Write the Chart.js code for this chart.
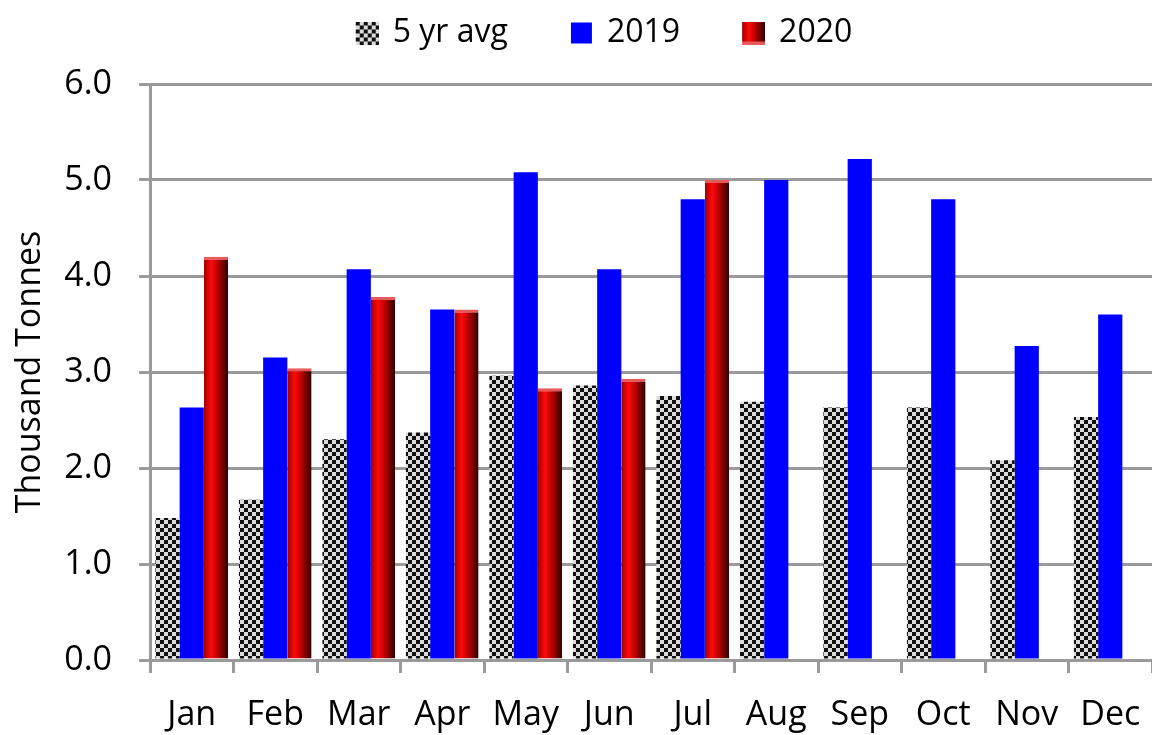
<!DOCTYPE html>
<html>
<head>
<meta charset="utf-8">
<script src="https://cdn.jsdelivr.net/npm/chart.js@4/dist/chart.umd.min.js"></script>
<style>
  html, body { margin: 0; padding: 0; background: #fff; }
  #wrap { width: 1152px; height: 735px; }
</style>
</head>
<body>
<div id="wrap"><canvas id="tonnesChart"></canvas></div>
<script>
const months = ['Jan', 'Feb', 'Mar', 'Apr', 'May', 'Jun', 'Jul', 'Aug', 'Sep', 'Oct', 'Nov', 'Dec'];
const avg5yr = [1.48, 1.67, 2.30, 2.37, 2.96, 2.86, 2.75, 2.69, 2.63, 2.63, 2.08, 2.53];
const y2019 = [2.63, 3.15, 4.07, 3.65, 5.08, 4.07, 4.80, 5.00, 5.22, 4.80, 3.27, 3.60];
const y2020 = [4.20, 3.04, 3.78, 3.65, 2.83, 2.93, 5.00, null, null, null, null, null];
const yTicks = [0, 1, 2, 3, 4, 5, 6];

const FONT = 'Open Sans';
const CAT_PCT = 0.87;
const LEGEND_GAP = 58;
const MARK = 23;

// checkered fill for the 5 yr avg bars
function makeChecker() {
    const c = document.createElement('canvas');
    c.width = 8;
    c.height = 8;
    const g = c.getContext('2d');
    g.fillStyle = '#dcdcdc';
    g.fillRect(0, 0, 8, 8);
    g.fillStyle = '#111';
    g.fillRect(0, 0, 4, 4);
    g.fillRect(4, 4, 4, 4);
    return g.createPattern(c, 'repeat');
}

function redGradient(g, left, width) {
    const grad = g.createLinearGradient(left, 0, left + width, 0);
    grad.addColorStop(0, '#a00000');
    grad.addColorStop(0.3, '#ff0a0a');
    grad.addColorStop(0.55, '#c00000');
    grad.addColorStop(0.8, '#700000');
    grad.addColorStop(1, '#300000');
    return grad;
}

// shaded red fill, built per bar from the x scale
function redShade(ctx) {
    const chart = ctx.chart;
    const xs = chart.scales && chart.scales.x;
    if (!xs || ctx.type !== 'data') {
        return '#d00000';
    }
    const catW = xs.width / months.length;
    const slot = catW * CAT_PCT / 3;
    const left = xs.getPixelForValue(ctx.dataIndex) - catW * CAT_PCT / 2 + slot * 2;
    if (!isFinite(left) || !isFinite(slot) || slot <= 0) {
        return '#d00000';
    }
    return redGradient(chart.ctx, left, slot);
}

// legend marker image, with empty space on its left as the gap between items
function legendMarker(kind) {
    const c = document.createElement('canvas');
    c.width = LEGEND_GAP + MARK;
    c.height = MARK;
    const g = c.getContext('2d');
    const x0 = LEGEND_GAP;
    if (kind === 'avg') {
        g.fillStyle = '#dcdcdc';
        g.fillRect(x0, 0, MARK, MARK);
        g.fillStyle = '#111';
        for (let r = 0; r < MARK; r += 4) {
            for (let k = 0; k < MARK; k += 4) {
                if (((r + k) / 4) % 2 === 0) {
                    g.fillRect(x0 + k, r, 4, 4);
                }
            }
        }
    } else if (kind === 'blue') {
        g.fillStyle = '#0000ff';
        g.fillRect(x0 + 1, 1, MARK - 2, MARK - 2);
    } else {
        g.fillStyle = redGradient(g, x0, MARK);
        g.fillRect(x0, 0, MARK, MARK);
        g.fillStyle = '#e85a5a';
        g.fillRect(x0, MARK - 3, MARK, 3);
    }
    return c;
}

document.addEventListener('DOMContentLoaded', () => {
    const canvas = document.getElementById('tonnesChart');
    const checker = makeChecker();
    const markers = [legendMarker('avg'), legendMarker('blue'), legendMarker('red')];

    new Chart(canvas, {
        type: 'bar',
        data: {
            labels: months,
            datasets: [{
                label: '5 yr avg',
                data: avg5yr,
                backgroundColor: checker,
            }, {
                label: '2019',
                data: y2019,
                backgroundColor: '#0000ff',
            }, {
                label: '2020',
                data: y2020,
                backgroundColor: redShade,
                borderColor: '#e85a5a',
                borderWidth: { top: 3, left: 0, right: 0, bottom: 0 },
                borderSkipped: 'bottom',
            }]
        },
        options: {
            responsive: true,
            maintainAspectRatio: false,
            animation: false,
            datasets: {
                bar: {
                    categoryPercentage: CAT_PCT,
                    barPercentage: 1.0,
                }
            },
            layout: {
                padding: { top: 11, right: 0, left: 0, bottom: 0 }
            },
            scales: {
                x: {
                    grid: {
                        drawOnChartArea: false,
                        drawTicks: true,
                        tickLength: 13,
                        tickWidth: 3,
                        tickColor: '#9a9a9a',
                        offset: true,
                    },
                    border: { color: '#9a9a9a', width: 3 },
                    ticks: {
                        color: '#000',
                        font: { family: FONT, size: 34 },
                        padding: 22,
                        maxRotation: 0,
                        autoSkip: false,
                    },
                    afterFit: function (scale) {
                        scale.height = 75;
                        scale.paddingLeft = 0;
                        scale.paddingRight = 0;
                    }
                },
                y: {
                    min: 0,
                    max: 6,
                    afterBuildTicks: function (scale) {
                        scale.ticks = yTicks.map(v => ({ value: v }));
                    },
                    grid: {
                        color: '#9a9a9a',
                        lineWidth: 3,
                        tickLength: 11,
                    },
                    border: { color: '#9a9a9a', width: 3 },
                    ticks: {
                        color: '#000',
                        font: { family: FONT, size: 34 },
                        padding: 27,
                        callback: function (value) {
                            return Number(value).toFixed(1);
                        }
                    },
                    title: {
                        display: true,
                        text: 'Thousand Tonnes',
                        color: '#000',
                        font: { family: FONT, size: 34 },
                        padding: { top: 10, bottom: 0 },
                    },
                    afterFit: function (scale) {
                        scale.width = 150;
                    }
                }
            },
            plugins: {
                legend: {
                    position: 'top',
                    labels: {
                        color: '#000',
                        font: { family: FONT, size: 32 },
                        usePointStyle: true,
                        pointStyleWidth: LEGEND_GAP + MARK - 4,
                        boxHeight: MARK,
                        padding: 6,
                        generateLabels: function (chart) {
                            const items = Chart.defaults.plugins.legend.labels.generateLabels(chart);
                            items.forEach(item => {
                                item.lineWidth = 0;
                                item.pointStyle = markers[item.datasetIndex];
                            });
                            return items;
                        }
                    }
                },
                // empty block between the legend and the plot area
                subtitle: {
                    display: true,
                    text: '',
                    position: 'top',
                    weight: 500,
                    font: { size: 20, lineHeight: 1.25 },
                    padding: 0,
                },
                tooltip: { enabled: false }
            }
        }
    });
});
</script>
</body>
</html>
